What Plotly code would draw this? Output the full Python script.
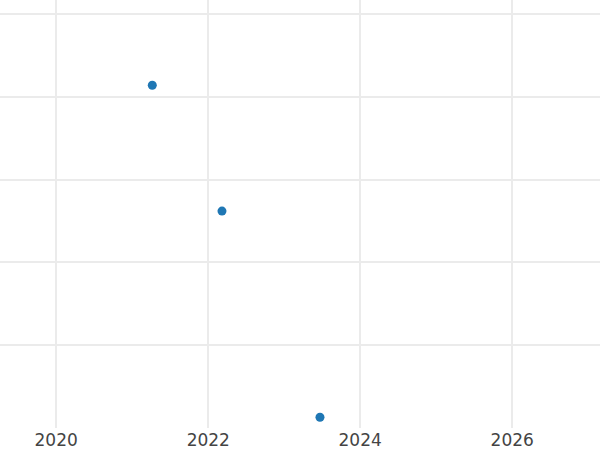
import plotly.graph_objects as go

# data
dates  = ["2021-04-07", "2022-03-08", "2023-06-22"]
values = [41.4, 26.2, 1.3]

x_range = ["2019-04-06", "2027-02-27"]
y_range = [0, 51.7]

fig = go.Figure()
fig.add_trace(go.Scatter(x      = dates,
                         y      = values,
                         mode   = "markers",
                         marker = dict(color = "#1f77b4", size = 9),
                         showlegend = False))

fig.update_layout(width         = 600,
                  height        = 450,
                  margin        = dict(l = 0, r = 0, t = 0, b = 22),
                  plot_bgcolor  = "white",
                  paper_bgcolor = "white",
                  font          = dict(family = "DejaVu Sans", size = 17, color = "#444"))

fig.update_xaxes(range     = x_range,
                 dtick     = "M24",
                 tick0     = "2020-01-01",
                 tickformat = "%Y",
                 showgrid  = True,
                 gridcolor = "#ebebeb",
                 gridwidth = 2,
                 zeroline  = False,
                 showline  = False)
fig.update_yaxes(range     = y_range,
                 dtick     = 10,
                 showticklabels = False,
                 showgrid  = True,
                 gridcolor = "#ebebeb",
                 gridwidth = 1.5,
                 zeroline  = False,
                 showline  = False)

# the page's default body margin would shift the figure by 8px
fig.write_html("out.html",
               config      = {"displayModeBar": False},
               post_script = "document.body.style.margin = '0';")
